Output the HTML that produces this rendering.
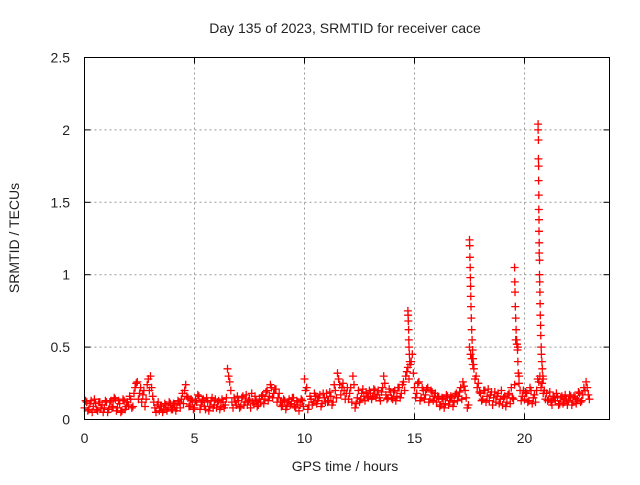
<!DOCTYPE html>
<html><head><meta charset="utf-8"><style>
body{margin:0;background:#fff;width:640px;height:480px;overflow:hidden}
svg text{font-family:"Liberation Sans",sans-serif;fill:#222}
</style></head><body>
<svg id="chart" width="640" height="480" xmlns="http://www.w3.org/2000/svg">
<text x="345" y="33" font-size="14" text-anchor="middle">Day 135 of 2023, SRMTID for receiver cace</text>
<text transform="translate(19,238) rotate(-90)" font-size="14" text-anchor="middle">SRMTID / TECUs</text>
<text x="345" y="471" font-size="14" text-anchor="middle">GPS time / hours</text>
<g id="grid"></g>
<g id="ticks"></g>
<g id="marks"></g>
<rect x="84.5" y="57.5" width="525" height="362" fill="none" stroke="#000" stroke-width="1"/>
</svg>
<script>
const xTicks=[0,5,10,15,20];
const xTickLabels=["0","5","10","15","20"];
const yTicks=[0,0.5,1,1.5,2,2.5];
const yTickLabels=["0","0.5","1","1.5","2","2.5"];
const baseStart=0, baseStep=0.1, baseStartB=0.05;
const baseValues=[
0.08,0.12,0.07,0.13,0.09,0.11,0.06,0.12,0.10,0.08,
0.12,0.07,0.13,0.09,0.14,0.08,0.11,0.06,0.13,0.09,
0.10,0.14,0.09,0.22,0.26,0.18,0.12,0.20,0.14,0.28,
0.30,0.16,0.08,0.10,0.06,0.09,0.07,0.10,0.08,0.11,
0.07,0.10,0.08,0.12,0.14,0.11,0.24,0.15,0.10,0.13,
0.08,0.12,0.16,0.10,0.14,0.07,0.12,0.09,0.15,0.10,
0.08,0.13,0.09,0.12,0.10,0.35,0.26,0.12,0.15,0.10,
0.13,0.09,0.16,0.12,0.10,0.14,0.18,0.11,0.13,0.10,
0.12,0.17,0.14,0.20,0.16,0.22,0.18,0.21,0.15,0.12,
0.10,0.13,0.09,0.14,0.11,0.15,0.08,0.12,0.10,0.13,
0.28,0.22,0.10,0.14,0.12,0.16,0.13,0.17,0.11,0.15,
0.18,0.13,0.16,0.12,0.20,0.32,0.24,0.22,0.20,0.18,
0.14,0.22,0.30,0.08,0.15,0.12,0.18,0.16,0.19,0.15,
0.18,0.16,0.20,0.17,0.15,0.19,0.30,0.17,0.15,0.19,
0.14,0.20,0.16,0.22,0.18,0.26,0.30,0.36,0.38,0.45,
0.22,0.18,0.26,0.15,0.20,0.17,0.22,0.14,0.19,0.16,
0.12,0.15,0.10,0.14,0.11,0.16,0.13,0.15,0.12,0.18,
0.16,0.22,0.26,0.20,0.08,0.50,0.42,0.35,0.30,0.25,
0.18,0.14,0.20,0.16,0.13,0.19,0.15,0.12,0.18,0.14,
0.10,0.16,0.12,0.18,0.22,0.14,0.55,0.50,0.20,0.16,
0.14,0.18,0.13,0.20,0.15,0.12,0.28,0.30,0.25,0.20,
0.18,0.14,0.12,0.16,0.13,0.15,0.11,0.16,0.12,0.14,
0.13,0.16,0.12,0.15,0.14,0.18,0.13,0.22,0.26,0.17];
const baseValuesB=[
0.13,0.06,0.11,0.05,0.14,0.07,0.12,0.08,0.05,0.13,
0.05,0.12,0.08,0.15,0.06,0.13,0.05,0.14,0.07,0.12,
0.16,0.08,0.18,0.25,0.14,0.22,0.17,0.09,0.24,0.20,
0.22,0.12,0.05,0.12,0.09,0.05,0.11,0.06,0.12,0.07,
0.11,0.06,0.13,0.08,0.18,0.20,0.16,0.09,0.14,0.07,
0.13,0.17,0.07,0.13,0.09,0.15,0.06,0.13,0.08,0.14,
0.12,0.07,0.14,0.08,0.15,0.30,0.20,0.08,0.12,0.16,
0.08,0.15,0.10,0.17,0.13,0.08,0.12,0.16,0.09,0.14,
0.16,0.11,0.19,0.13,0.24,0.15,0.21,0.12,0.18,0.09,
0.14,0.07,0.12,0.10,0.15,0.09,0.13,0.06,0.14,0.09,
0.20,0.07,0.16,0.10,0.18,0.11,0.15,0.09,0.18,0.12,
0.12,0.19,0.10,0.24,0.15,0.28,0.17,0.25,0.14,0.22,
0.18,0.12,0.24,0.11,0.20,0.14,0.21,0.13,0.16,0.20,
0.14,0.21,0.15,0.20,0.13,0.22,0.25,0.14,0.21,0.15,
0.19,0.13,0.22,0.15,0.24,0.20,0.33,0.28,0.40,0.32,
0.15,0.25,0.13,0.22,0.14,0.21,0.12,0.20,0.13,0.18,
0.16,0.09,0.15,0.08,0.17,0.10,0.16,0.09,0.17,0.13,
0.19,0.14,0.23,0.15,0.10,0.45,0.38,0.28,0.22,0.19,
0.13,0.20,0.12,0.21,0.17,0.10,0.19,0.16,0.11,0.20,
0.15,0.09,0.17,0.11,0.15,0.24,0.52,0.30,0.13,0.20,
0.19,0.12,0.22,0.11,0.17,0.20,0.26,0.22,0.18,0.14,
0.13,0.19,0.10,0.15,0.18,0.10,0.15,0.11,0.17,0.10,
0.17,0.10,0.16,0.11,0.19,0.12,0.17,0.20,0.22,0.14];
const spikeHours=[
14.70,14.71,14.72,14.73,14.74,14.75,14.77,14.78,
17.50,17.51,17.52,17.53,17.54,17.55,17.56,17.57,17.58,17.60,17.62,17.64,17.66,17.68,17.70,
19.55,19.56,19.57,19.58,19.60,19.62,19.64,19.66,19.68,19.70,19.72,19.75,
20.62,20.62,20.63,20.63,20.64,20.64,20.65,20.65,20.66,20.66,20.67,20.67,20.68,20.68,20.69,20.70,20.71,20.72,20.73,20.74,20.76,20.77,20.79,20.81,20.83,20.85];
const spikeValues=[
0.75,0.72,0.68,0.62,0.55,0.50,0.45,0.40,
1.24,1.20,1.12,1.05,0.98,0.92,0.85,0.78,0.70,0.62,0.55,0.48,0.42,0.38,0.35,
1.05,0.95,0.88,0.78,0.70,0.62,0.55,0.52,0.48,0.40,0.32,0.25,
2.04,2.00,1.93,1.80,1.75,1.65,1.55,1.45,1.38,1.30,1.22,1.15,1.10,1.00,0.95,0.88,0.80,0.72,0.65,0.58,0.50,0.45,0.40,0.35,0.30,0.28];

const X0=84.5,PX=22,Y0=419.5,PY=144.8,RIGHT=609.5,TOP=57.5;
const xs=h=>X0+h*PX, ys=v=>Y0-v*PY;
const NS="http://www.w3.org/2000/svg";
const grid=document.getElementById('grid'),ticks=document.getElementById('ticks'),marks=document.getElementById('marks');
function mk(tag,attrs,parent){const e=document.createElementNS(NS,tag);for(const k in attrs)e.setAttribute(k,attrs[k]);parent.appendChild(e);return e;}
xTicks.forEach((t,i)=>{
  const x=xs(t);
  if(t>0){const g=mk('line',{x1:x,x2:x,y1:TOP,y2:Y0,stroke:'#999','stroke-dasharray':'2,3'},grid);
  
  }
  mk('line',{x1:x,x2:x,y1:Y0,y2:Y0-6,stroke:'#000'},ticks);
  mk('line',{x1:x,x2:x,y1:TOP,y2:TOP+6,stroke:'#000'},ticks);
  const tx=mk('text',{x:x,y:443,'font-size':14,'text-anchor':'middle'},ticks);
  tx.textContent=xTickLabels[i];
  
  
});
yTicks.forEach((t,i)=>{
  const y=ys(t);
  if(t>0&&t<2.5){const g=mk('line',{x1:X0,x2:RIGHT,y1:y,y2:y,stroke:'#999','stroke-dasharray':'2,3'},grid);
  
  }
  mk('line',{x1:X0,x2:X0+6,y1:y,y2:y,stroke:'#000'},ticks);
  mk('line',{x1:RIGHT,x2:RIGHT-6,y1:y,y2:y,stroke:'#000'},ticks);
  const tx=mk('text',{x:70,y:y+5,'font-size':14,'text-anchor':'end'},ticks);
  tx.textContent=yTickLabels[i];
  
  
});
let d='';
function cross(h,v){const x=xs(h),y=ys(v);d+=`M${(x-4).toFixed(1)} ${y.toFixed(1)}h8M${x.toFixed(1)} ${(y-4).toFixed(1)}v8`;}
baseValues.forEach((v,i)=>cross(baseStart+i*baseStep,v));
baseValuesB.forEach((v,i)=>cross(baseStartB+i*baseStep,v));
spikeHours.forEach((h,i)=>cross(h,spikeValues[i]));
const p=mk('path',{d:d,stroke:'#ff0000','stroke-width':1.3,fill:'none'},marks);


</script>
</body></html>
